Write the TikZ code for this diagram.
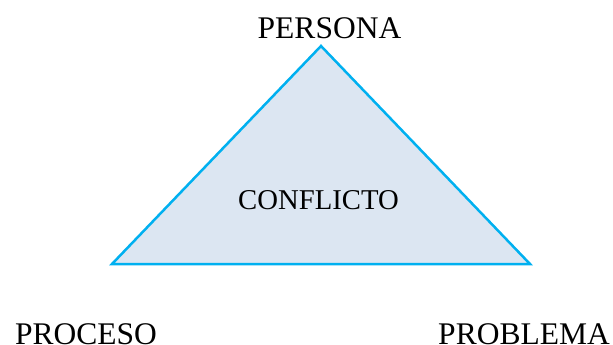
\documentclass[tikz,border=0pt]{standalone}
\usepackage{fontspec}
\setmainfont{Liberation Serif}
\definecolor{triline}{HTML}{00B0F0}
\definecolor{trifill}{HTML}{DCE6F2}
\begin{document}
\begin{tikzpicture}[x=1pt,y=-1pt,
  lbl/.style={inner sep=0pt,anchor=base,font=\fontsize{31.5}{34}\selectfont},
  inner/.style={inner sep=0pt,anchor=base,font=\fontsize{28.7}{31}\selectfont}]
\useasboundingbox (0,0) rectangle (613,345);
\coordinate (top) at (321,46);
\coordinate (left) at (112,264);
\coordinate (right) at (530,264);
\draw[draw=triline,fill=trifill,line width=2.5pt,line join=miter] (top) -- (right) -- (left) -- cycle;
\node[lbl] (persona) at (329.5,39) {PERSONA};
\node[inner] (conflicto) at (318.5,209) {CONFLICTO};
\node[lbl] (proceso) at (86,344) {PROCESO};
\node[lbl] (problema) at (524,344) {PROBLEMA};
\end{tikzpicture}
\end{document}
